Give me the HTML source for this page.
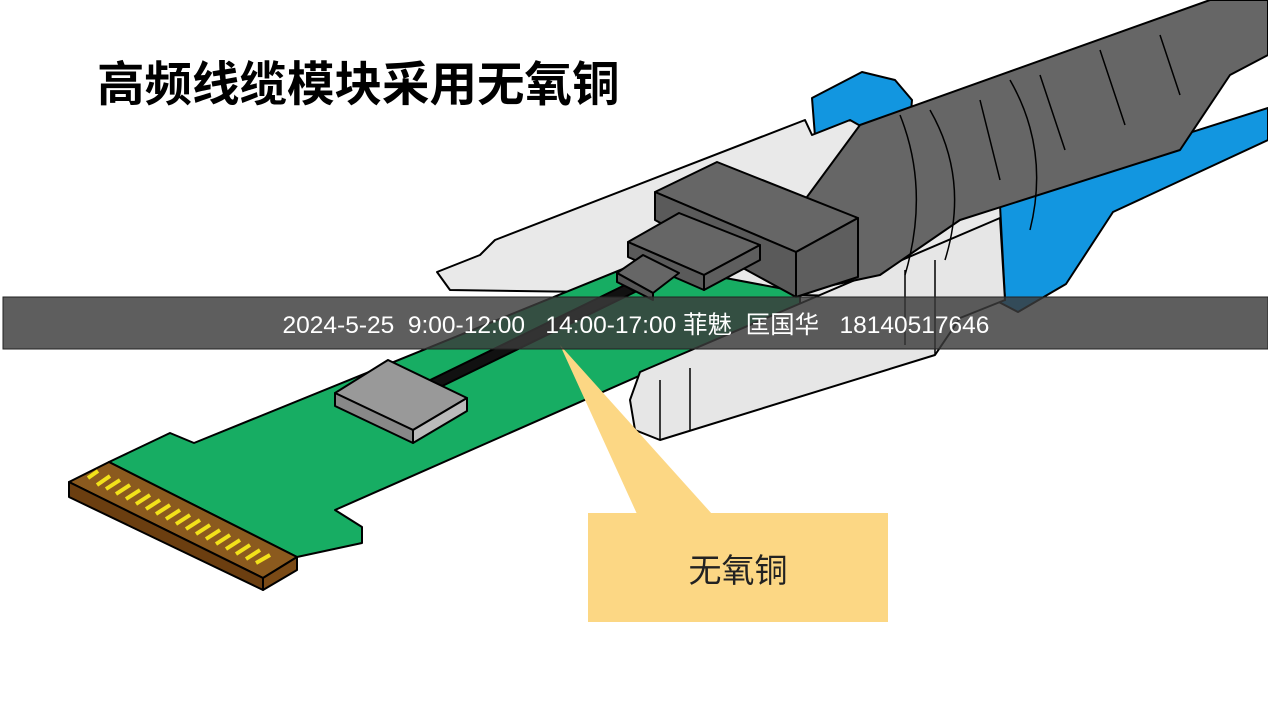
<!DOCTYPE html>
<html><head><meta charset="utf-8"><style>
html,body{margin:0;padding:0;background:#fff;width:1268px;height:713px;overflow:hidden}
svg{display:block}
</style></head><body>
<svg width="1268" height="713" viewBox="0 0 1268 713" xmlns="http://www.w3.org/2000/svg" font-family="'Liberation Sans','Noto Sans CJK SC',sans-serif">
<rect width="1268" height="713" fill="#fff"/>
<text x="97" y="101" font-size="47.5" font-weight="bold" fill="#000" font-family="'Liberation Sans','Noto Sans CJK SC',sans-serif">高频线缆模块采用无氧铜</text>

<g stroke="#000" stroke-width="2" stroke-linejoin="round">
<path d="M812,98 L862,72 L895,80 L912,100 L905,180 L820,200 Z" fill="#1296e0"/>
<path d="M990,200 L1094,163 L1268,108 L1268,140 L1113,212 L1066,284 L1018,312 L995,300 Z" fill="#1296e0"/>
<path d="M437,272 L480,255 L495,240 L805,120 L812,135 L850,120 L1000,205 L1005,300 L800,295 L450,290 Z" fill="#e9e9e9"/>
<path d="M109,462 L170,433 L194,443 L640,262 L800,292 L800,305 L335,510 L362,527 L362,543 L297,557 Z" fill="#17ad63"/>
<path d="M640,372 L1000,218 L1005,300 L960,318 L935,355 L660,440 L635,430 L630,400 Z" fill="#e6e6e6"/>
<path d="M660,380 L660,440 M690,368 L690,430 M905,270 L905,345 M935,260 L935,355" fill="none" stroke-width="1.5"/>
<path d="M69,482 L109,462 L297,557 L263,578 Z" fill="#8b5a1e"/>
<path d="M69,482 L69,497 L263,590 L263,578 Z" fill="#6b3e10"/>
<path d="M263,578 L297,557 L297,570 L263,590 Z" fill="#7a4a16"/>
</g>
<g stroke="#f2e21a" stroke-width="4">
<line x1="88" y1="478" x2="98" y2="471"/><line x1="97" y1="485" x2="110" y2="476"/><line x1="106" y1="489" x2="120" y2="480"/><line x1="116" y1="494" x2="130" y2="485"/><line x1="126" y1="499" x2="140" y2="490"/><line x1="136" y1="504" x2="150" y2="495"/><line x1="146" y1="509" x2="160" y2="500"/><line x1="156" y1="514" x2="170" y2="505"/><line x1="166" y1="519" x2="180" y2="510"/><line x1="176" y1="524" x2="190" y2="515"/><line x1="186" y1="529" x2="200" y2="520"/><line x1="196" y1="534" x2="210" y2="525"/><line x1="206" y1="539" x2="220" y2="530"/><line x1="216" y1="544" x2="230" y2="535"/><line x1="226" y1="549" x2="240" y2="540"/><line x1="236" y1="554" x2="250" y2="545"/><line x1="246" y1="559" x2="260" y2="550"/><line x1="256" y1="563" x2="270" y2="555"/>
</g>
<g stroke="#000" stroke-width="2" stroke-linejoin="round">
<path d="M420,385 L625,285 L635,292 L430,392 Z" fill="#111"/>
<path d="M335,393 L388,360 L467,398 L413,430 Z" fill="#999"/>
<path d="M335,393 L413,430 L413,443 L335,406 Z" fill="#888"/>
<path d="M413,430 L467,398 L467,411 L413,443 Z" fill="#bbb"/>
<path d="M860,125 L1210,0 L1268,0 L1268,55 L1230,75 L1180,150 L960,220 L880,275 L800,292 L790,220 Z" fill="#666"/>
<path d="M900,115 Q930,190 905,275" fill="none" stroke-width="1.5"/>
<path d="M930,110 Q970,180 945,260 M1010,80 Q1050,150 1030,230" fill="none" stroke-width="1.5"/>
<path d="M980,100 L1000,180 M1040,75 L1065,150 M1100,50 L1125,125 M1160,35 L1180,95" fill="none" stroke-width="1.5"/>
<path d="M655,192 L717,162 L858,218 L796,252 Z" fill="#666"/>
<path d="M655,192 L796,252 L796,297 L655,220 Z" fill="#5a5a5a"/>
<path d="M796,252 L858,218 L858,277 L796,297 Z" fill="#5e5e5e"/>
<path d="M628,242 L679,213 L760,245 L704,275 Z" fill="#666"/>
<path d="M628,242 L704,275 L704,290 L628,257 Z" fill="#5a5a5a"/>
<path d="M704,275 L760,245 L760,260 L704,290 Z" fill="#5e5e5e"/>
<path d="M617,273 L643,255 L679,273 L653,293 Z" fill="#666"/>
<path d="M617,273 L653,293 L653,300 L617,282 Z" fill="#555"/>
</g>
<path d="M560,345 L712,514 L637,514 Z" fill="#fcd784"/>
<rect x="588" y="513" width="300" height="109" fill="#fcd784"/>
<text x="738" y="582" font-size="33" fill="#222" text-anchor="middle">无氧铜</text>
<rect x="3" y="297" width="1265" height="52" fill="#3a3a3a" fill-opacity="0.82" stroke="#222" stroke-width="1"/>
<text x="636" y="333" font-size="24.5" fill="#fff" text-anchor="middle" xml:space="preserve">2024-5-25  9:00-12:00   14:00-17:00 菲魅  匡国华   18140517646</text>
</svg>
</body></html>
